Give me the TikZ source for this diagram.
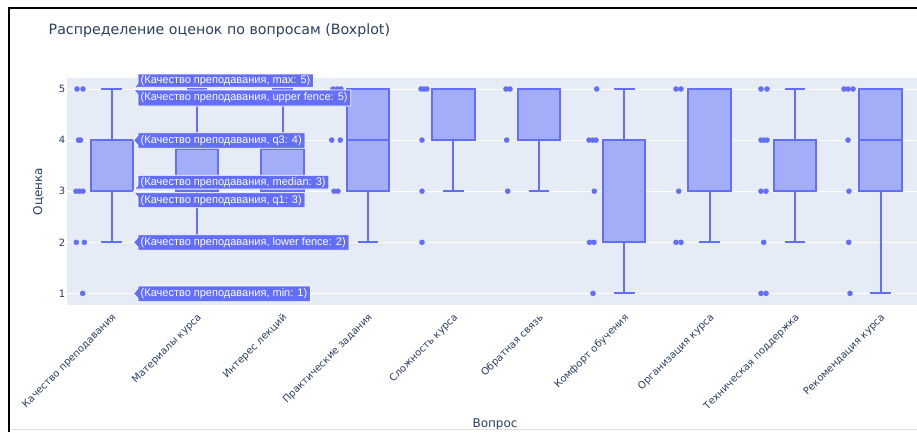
\documentclass[tikz,border=0pt]{standalone}
\usepackage{fontspec}
\setmainfont{DejaVu Sans}
\newfontfamily\hoverfont{Liberation Sans}
\definecolor{pbg}{HTML}{E5ECF6}
\definecolor{pc}{HTML}{636EFA}
\definecolor{pfill}{HTML}{A4ADF8}
\definecolor{ptxt}{HTML}{2A3F5F}
\pgfdeclarelayer{bg}
\pgfsetlayers{bg,main}
\newcommand\pbox[6]{%
  \draw[pc, line width=2pt] (#1,#2) -- (#1,#3) (#1,#5) -- (#1,#6);
  \draw[pc, line width=2pt] ({#1-10.3},#2) -- ({#1+10.3},#2) ({#1-10.3},#6) -- ({#1+10.3},#6);
  \filldraw[fill=pfill, draw=pc, line width=2pt] ({#1-21.2},#3) rectangle ({#1+21.2},#5);
  \draw[pc, line width=2pt] ({#1-21.2},#4) -- ({#1+21.2},#4);
}
\tikzset{
  pt/.style={fill=pc},
  hov/.style={fill=pc, draw=white, line width=0.8pt, line join=round},
  hovtxt/.style={anchor=west, text=white, inner sep=0pt, font=\hoverfont\fontsize{11}{13}\selectfont},
  ytick/.style={anchor=east, text=ptxt, inner sep=0pt, font=\fontsize{10}{12}\selectfont},
  xtick/.style={anchor=east, rotate=45, text=ptxt, inner sep=0pt, font=\fontsize{10}{12}\selectfont},
}
\begin{document}
\begin{tikzpicture}[x=1pt,y=-1pt]
\useasboundingbox (0,0) rectangle (917,432);
\begin{pgfonlayer}{bg}
\fill[white] (0,0) rectangle (917,432);
% plot area
\fill[pbg] (67,78) rectangle (917,305);
\foreach \v in {1,...,5} \draw[white, line width=1pt] (67,{89+(5-\v)*51.1}) -- (917,{89+(5-\v)*51.1});
% boxes in value coordinates
\begin{scope}[yshift=-344.5pt, y=51.1pt, x=1pt]
\pbox{111.7}{2}{3}{3}{4}{5}
\pbox{197.1}{2}{3}{3}{3.82}{5}
\pbox{282.5}{3}{3}{3}{3.82}{5}
\pbox{367.9}{2}{3}{4}{5}{5}
\pbox{453.4}{3}{4}{5}{5}{5}
\pbox{538.8}{3}{4}{5}{5}{5}
\pbox{624.2}{1}{2}{4}{4}{5}
\pbox{709.6}{2}{3}{5}{5}{5}
\pbox{795.1}{2}{3}{4}{4}{5}
\pbox{880.5}{1}{3}{4}{5}{5}
% points
\foreach \x/\v in {77/5,83/5,78.5/4,80.5/4,76/3,79.5/3,83/3,76.3/2,84.3/2,82.7/1,
  333/5,337.5/5,341/5,331.7/4,340.3/4,334/3,338/3,
  421/5,424/5,427/5,422/4,422/3,422/2,
  506/5,510/5,506.7/4,507.7/3,
  596.7/5,589/4,592.5/4,596/4,594.3/3,589.5/2,594/2,593/1,
  676/5,681/5,678.7/3,676/2,681/2,
  761/5,767/5,761/4,764/4,767/4,761/3,766/3,763.7/2,761/1,766/1,
  844/5,848/5,853/5,848/4,849/3,848.7/2,850/1}
  \fill[pt] (\x,\v) circle (2.8pt);
\end{scope}
\end{pgfonlayer}
% y ticks
\node[ytick] (y5) at (65.5,89) {5};
\node[ytick] (y4) at (65.5,140.1) {4};
\node[ytick] (y3) at (65.5,191.2) {3};
\node[ytick] (y2) at (65.5,242.3) {2};
\node[ytick] (y1) at (65.5,293.4) {1};
% hover labels: text first, boxes on the background layer behind it
\node[hovtxt] (lmax) at (140.5,80.8) {(Качество преподавания, max: 5)};
\node[hovtxt] (lup) at (140.5,98) {(Качество преподавания, upper fence: 5)};
\node[hovtxt] (lq3) at (140.5,140.5) {(Качество преподавания, q3: 4)};
\node[hovtxt] (lmed) at (140.5,182.2) {(Качество преподавания, median: 3)};
\node[hovtxt] (lq1) at (140.5,200.2) {(Качество преподавания, q1: 3)};
\node[hovtxt] (llow) at (140.5,242.5) {(Качество преподавания, lower fence: 2)};
\node[hovtxt] (lmin) at (140.5,293.9) {(Качество преподавания, min: 1)};
\begin{pgfonlayer}{bg}
\filldraw[hov] (133.5,89) -- (138,83) -- (138,74) -- ([xshift=3pt]lmax.east |- 0,74) -- ([xshift=3pt]lmax.east |- 0,87.3) -- (138,87.3) -- cycle;
\filldraw[hov] (133.5,89) -- (138,90) -- ([xshift=3pt]lup.east |- 0,90) -- ([xshift=3pt]lup.east |- 0,106) -- (138,106) -- (138,95) -- cycle;
\filldraw[hov] (133.5,140.3) -- (138,135.3) -- (138,132.7) -- ([xshift=3pt]lq3.east |- 0,132.7) -- ([xshift=3pt]lq3.east |- 0,148.3) -- (138,148.3) -- (138,145.3) -- cycle;
\filldraw[hov] (133.5,191.3) -- (138,185) -- (138,175.3) -- ([xshift=3pt]lmed.east |- 0,175.3) -- ([xshift=3pt]lmed.east |- 0,189) -- (138,189) -- cycle;
\filldraw[hov] (133.5,191.3) -- (138,192.7) -- ([xshift=3pt]lq1.east |- 0,192.7) -- ([xshift=3pt]lq1.east |- 0,207.7) -- (138,207.7) -- (138,197.5) -- cycle;
\filldraw[hov] (133.5,242.3) -- (138,237.3) -- (138,234.7) -- ([xshift=3pt]llow.east |- 0,234.7) -- ([xshift=3pt]llow.east |- 0,250.3) -- (138,250.3) -- (138,247.3) -- cycle;
\filldraw[hov] (133.5,293.4) -- (138,288.4) -- (138,286) -- ([xshift=3pt]lmin.east |- 0,286) -- ([xshift=3pt]lmin.east |- 0,301.7) -- (138,301.7) -- (138,298.4) -- cycle;
\end{pgfonlayer}
% x ticks
\node[xtick] (x1) at (114.7,316) {Качество преподавания};
\node[xtick] (x2) at (200.1,316) {Материалы курса};
\node[xtick] (x3) at (285.5,316) {Интерес лекций};
\node[xtick] (x4) at (370.9,316) {Практические задания};
\node[xtick] (x5) at (456.4,316) {Сложность курса};
\node[xtick] (x6) at (541.8,316) {Обратная связь};
\node[xtick] (x7) at (627.2,316) {Комфорт обучения};
\node[xtick] (x8) at (712.6,316) {Организация курса};
\node[xtick] (x9) at (798.1,316) {Техническая поддержка};
\node[xtick] (x10) at (883.5,316) {Рекомендация курса};
% titles
\node[anchor=west, text=ptxt, inner sep=0pt, font=\fontsize{14.2}{16}\selectfont] (title) at (48.5,31) {Распределение оценок по вопросам (Boxplot)};
\node[rotate=90, text=ptxt, inner sep=0pt, font=\fontsize{12}{14}\selectfont] (ytitle) at (38.5,191.5) {Оценка};
\node[text=ptxt, inner sep=0pt, font=\fontsize{12}{14}\selectfont] (xtitle) at (495,424) {Вопрос};
% frame
\draw[black, line width=2pt] (9.3,432) -- (9.3,8) -- (917,8);
\draw[black!12, line width=1pt] (10.3,429.5) -- (917,429.5);
\end{tikzpicture}
\end{document}
